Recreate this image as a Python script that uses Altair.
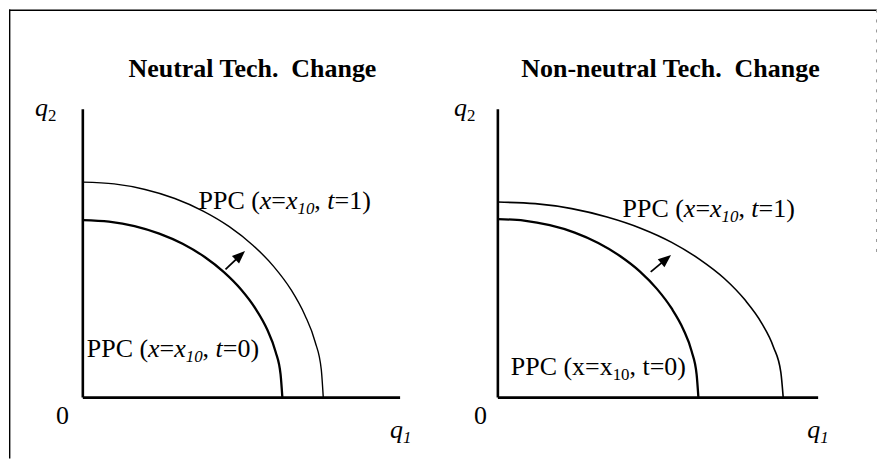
import altair as alt
import pandas as pd

# ---------------- data (axis units) ----------------
left_inner_q1 = [0, 1.31, 2.59, 3.83, 5.00, 6.09, 7.07, 7.93, 8.66, 9.24, 9.66, 9.91, 10.0]
left_inner_q2 = [8.90, 8.82, 8.60, 8.22, 7.71, 7.06, 6.29, 5.42, 4.45, 3.41, 2.30, 1.16, 0]
left_outer_q1 = [0, 1.57, 3.12, 4.61, 6.03, 7.34, 8.52, 9.56, 10.44, 11.13, 11.64, 11.95, 12.05]
left_outer_q2 = [10.8, 10.71, 10.43, 9.98, 9.35, 8.57, 7.64, 6.58, 5.40, 4.13, 2.80, 1.41, 0]
right_inner_q1 = [0, 1.31, 2.60, 3.85, 5.03, 6.12, 7.11, 7.97, 8.70, 9.29, 9.71, 9.96, 10.05]
right_inner_q2 = [8.95, 8.87, 8.64, 8.27, 7.75, 7.10, 6.33, 5.45, 4.48, 3.43, 2.32, 1.17, 0]
right_outer_q1 = [0, 1.87, 3.70, 5.47, 7.15, 8.71, 10.11, 11.35, 12.38, 13.21, 13.81, 14.18, 14.3]
right_outer_q2 = [9.8, 9.72, 9.47, 9.05, 8.49, 7.78, 6.93, 5.97, 4.90, 3.75, 2.54, 1.28, 0]

axis_q1_max = [15.9, 16.05]
axis_q2_max = [14.45, 14.45]

arrow_from_q1 = [7.15, 7.66]
arrow_from_q2 = [6.43, 6.30]
arrow_to_q1 = [7.89, 8.43]
arrow_to_q2 = [7.13, 6.94]
arrow_angle = [47, 50]

titles = ["Neutral Tech.\u00a0 Change", "Non-neutral Tech.\u00a0 Change"]

# label runs: (text, style, subscript)
lab_t1_italic = [("PPC (", "normal", 0), ("x", "italic", 0), ("=", "normal", 0), ("x", "italic", 0),
                 ("10", "italic", 1), (", ", "normal", 0), ("t", "italic", 0), ("=1)", "normal", 0)]
lab_t0_italic = [("PPC (", "normal", 0), ("x", "italic", 0), ("=", "normal", 0), ("x", "italic", 0),
                 ("10", "italic", 1), (", ", "normal", 0), ("t", "italic", 0), ("=0)", "normal", 0)]
lab_t0_plain = [("PPC (x=x", "normal", 0), ("10", "normal", 1), (", t=0)", "normal", 0)]
lab_q2 = [("q", "italic", 0), ("2", "normal", 1)]
lab_q1 = [("q", "italic", 0), ("1", "italic", 1)]
lab_zero = [("0", "normal", 0)]

# ---------------- layout ----------------
PX = 20.0          # pixels per axis unit
H = 450
W = [436, 434]
ORIGIN = [(74, 389), (54, 389)]
FS = 26
FS_TITLE = 26
FONT = "Liberation Serif"

REG = {'P': 556, 'C': 667, ' ': 250, '(': 333, ')': 333, '=': 564, '1': 500, '0': 500,
       ',': 250, 'x': 500, 't': 278, '2': 500}
ITA = {'x': 444, 't': 278, '1': 500, '0': 500, 'q': 500, '2': 500}


def runs(x0, y0, parts, size=FS):
    rows = []
    cx = x0
    for text, style, sub in parts:
        fs = size * 0.65 if sub else size
        yy = y0 - (0.2 * size / PX if sub else 0)
        rows.append(dict(x=cx, y=yy, text=text, style=style, size=fs))
        table = ITA if style == "italic" else REG
        cx += sum(table.get(c, 500) for c in text) / 1000.0 * fs / PX
    return rows


label_rows = [
    runs(5.8, 9.45, lab_t1_italic) + runs(0.2, 2.05, lab_t0_italic) + runs(-2.4, 14.1, lab_q2)
    + runs(15.4, -2.0, lab_q1) + runs(-1.35, -1.3, lab_zero),
    runs(6.25, 9.05, lab_t1_italic) + runs(0.65, 1.15, lab_t0_plain) + runs(-2.2, 14.1, lab_q2)
    + runs(15.5, -2.0, lab_q1) + runs(-1.2, -1.3, lab_zero),
]
title_pos = [(8.5, 16.05), (8.65, 16.05)]
curves = [
    ((left_inner_q1, left_inner_q2), (left_outer_q1, left_outer_q2)),
    ((right_inner_q1, right_inner_q2), (right_outer_q1, right_outer_q2)),
]


def panel(i):
    w = W[i]
    ox, oy = ORIGIN[i]
    xs = alt.Scale(domain=[-ox / PX, (w - ox) / PX], nice=False, zero=False)
    ys = alt.Scale(domain=[-(H - oy) / PX, oy / PX], nice=False, zero=False)

    def X(f):
        return alt.X(f, type="quantitative", scale=xs, axis=None)

    def Y(f):
        return alt.Y(f, type="quantitative", scale=ys, axis=None)

    layers = []
    (iq1, iq2), (oq1, oq2) = curves[i]
    inner = pd.DataFrame({"q1": iq1, "q2": iq2, "o": range(len(iq1))})
    outer = pd.DataFrame({"q1": oq1, "q2": oq2, "o": range(len(oq1))})
    layers.append(alt.Chart(inner).mark_line(color="black", strokeWidth=2.3, interpolate="monotone")
                  .encode(x=X("q1"), y=Y("q2"), order="o:Q"))
    layers.append(alt.Chart(outer).mark_line(color="black", strokeWidth=1.4 if i == 0 else 1.6,
                                             interpolate="monotone")
                  .encode(x=X("q1"), y=Y("q2"), order="o:Q"))

    axes = pd.DataFrame({"x1": [0, 0], "y1": [0, 0], "x2": [axis_q1_max[i], 0], "y2": [0, axis_q2_max[i]]})
    layers.append(alt.Chart(axes).mark_rule(color="black", strokeWidth=2.6)
                  .encode(x=X("x1"), y=Y("y1"), x2="x2", y2="y2"))

    arr = pd.DataFrame({"x1": [arrow_from_q1[i]], "y1": [arrow_from_q2[i]],
                        "x2": [arrow_to_q1[i]], "y2": [arrow_to_q2[i]]})
    layers.append(alt.Chart(arr).mark_rule(color="black", strokeWidth=1.8)
                  .encode(x=X("x1"), y=Y("y1"), x2="x2", y2="y2"))
    layers.append(alt.Chart(arr).mark_point(shape="M0,-1L0.8,1L-0.8,1Z", filled=True, color="black",
                                            opacity=1, size=170, angle=arrow_angle[i])
                  .encode(x=X("x2"), y=Y("y2")))

    tdf = pd.DataFrame(label_rows[i])
    for style in ["normal", "italic"]:
        layers.append(alt.Chart(tdf).transform_filter(alt.datum.style == style)
                      .mark_text(align="left", baseline="alphabetic", font=FONT, fontStyle=style,
                                 color="black")
                      .encode(x=X("x"), y=Y("y"), text="text:N", size=alt.Size("size:Q", scale=None)))

    ttl = pd.DataFrame({"x": [title_pos[i][0]], "y": [title_pos[i][1]], "text": [titles[i]]})
    layers.append(alt.Chart(ttl).mark_text(align="center", baseline="alphabetic", font=FONT,
                                           fontWeight="bold", fontSize=FS_TITLE, color="black")
                  .encode(x=X("x"), y=Y("y"), text="text:N"))

    dummy = pd.DataFrame({"a": [0]})
    layers.append(alt.Chart(dummy).mark_rule(color="black", strokeWidth=1.6)
                  .encode(x=alt.value(0), x2=alt.value(w), y=alt.value(0.8)))
    if i == 0:
        layers.append(alt.Chart(dummy).mark_rule(color="black", strokeWidth=1.4)
                      .encode(x=alt.value(0.7), y=alt.value(0), y2=alt.value(H)))
    else:
        layers.append(alt.Chart(dummy).mark_rule(color="#9a9a9a", strokeWidth=1.0, strokeDash=[3, 7])
                      .encode(x=alt.value(w - 0.5), y=alt.value(0), y2=alt.value(250)))

    return alt.layer(*layers).properties(width=w, height=H)


chart = alt.hconcat(panel(0), panel(1), spacing=0, bounds="flush").properties(
    padding=0, background="white"
).configure_view(stroke=None)

chart.save("out.html", embed_options={"renderer": "svg", "actions": False})
